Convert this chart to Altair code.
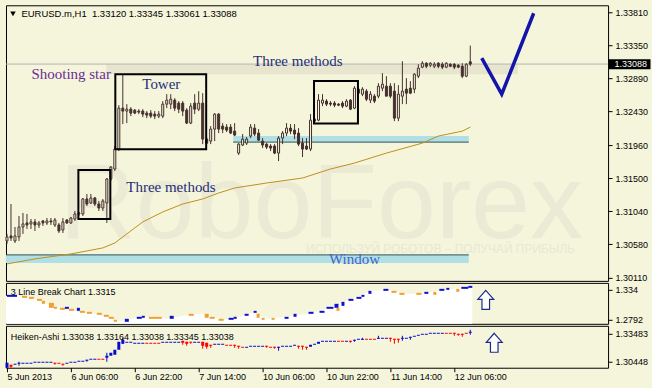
import json
import altair as alt
import pandas as pd

# ---------------- main window: EURUSD.m, H1 candles ----------------
c_open = [1.30624, 1.30694, 1.30624, 1.30680, 1.30819, 1.30875, 1.30861, 1.30889, 1.30847, 1.30903,
          1.30875, 1.30903, 1.30847, 1.30847, 1.30777, 1.30916, 1.30875, 1.30930, 1.31000, 1.31000,
          1.31209, 1.31153, 1.31223, 1.31139, 1.31083, 1.31153, 1.31487, 1.31626, 1.31904, 1.32474,
          1.32433, 1.32460, 1.32447, 1.32433, 1.32433, 1.32405, 1.32405, 1.32391, 1.32363, 1.32363,
          1.32530, 1.32530, 1.32586, 1.32544, 1.32544, 1.32447, 1.32266, 1.32544, 1.32460, 1.32544,
          1.32043, 1.32015, 1.32182, 1.32391, 1.32224, 1.32210, 1.32210, 1.32154, 1.31848, 1.31960,
          1.31987, 1.32085, 1.32196, 1.32127, 1.32015, 1.31973, 1.31946, 1.31946, 1.31848, 1.32057,
          1.32127, 1.32196, 1.32168, 1.32127, 1.31987, 1.31946, 1.31904, 1.32293, 1.32307, 1.32544,
          1.32572, 1.32544, 1.32544, 1.32530, 1.32544, 1.32502, 1.32586, 1.32474, 1.32739, 1.32669,
          1.32711, 1.32586, 1.32641, 1.32641, 1.32752, 1.32780, 1.32780, 1.32711, 1.32335, 1.32641,
          1.32739, 1.32752, 1.32739, 1.32919, 1.33045, 1.33100, 1.33072, 1.33058, 1.33100, 1.33086,
          1.33045, 1.33086, 1.33086, 1.33072, 1.33058, 1.32919, 1.33120]
c_close = [1.30680, 1.30666, 1.30694, 1.30819, 1.30861, 1.30847, 1.30889, 1.30847, 1.30875, 1.30875,
           1.30903, 1.30889, 1.30916, 1.30763, 1.30889, 1.30875, 1.30944, 1.31000, 1.31014, 1.31209,
           1.31139, 1.31223, 1.31139, 1.31083, 1.31181, 1.31487, 1.31653, 1.31904, 1.32474, 1.32433,
           1.32460, 1.32405, 1.32405, 1.32419, 1.32391, 1.32377, 1.32363, 1.32363, 1.32391, 1.32530,
           1.32586, 1.32599, 1.32474, 1.32460, 1.32433, 1.32266, 1.32502, 1.32460, 1.32544, 1.32043,
           1.31987, 1.32182, 1.32391, 1.32182, 1.32182, 1.32168, 1.32127, 1.32099, 1.31973, 1.32043,
           1.32043, 1.32210, 1.32113, 1.32029, 1.31960, 1.31932, 1.31918, 1.31848, 1.32057, 1.32127,
           1.32196, 1.32154, 1.32113, 1.31973, 1.31904, 1.31904, 1.32307, 1.32321, 1.32586, 1.32586,
           1.32530, 1.32530, 1.32516, 1.32516, 1.32502, 1.32572, 1.32460, 1.32752, 1.32683, 1.32739,
           1.32599, 1.32669, 1.32572, 1.32780, 1.32808, 1.32641, 1.32641, 1.32335, 1.32669, 1.32711,
           1.32683, 1.32683, 1.32947, 1.33031, 1.33100, 1.33058, 1.33100, 1.33086, 1.33058, 1.33045,
           1.33100, 1.33058, 1.33045, 1.33045, 1.32919, 1.33086, 1.33088]
c_high = [1.30722, 1.31139, 1.30819, 1.30972, 1.31014, 1.31000, 1.30930, 1.30930, 1.30903, 1.30916,
          1.30944, 1.30944, 1.30944, 1.30875, 1.30944, 1.30930, 1.30958, 1.31042, 1.31028, 1.31223,
          1.31278, 1.31278, 1.31237, 1.31181, 1.31209, 1.31501, 1.31667, 1.31946, 1.32516, 1.32947,
          1.32530, 1.32488, 1.32460, 1.32460, 1.32460, 1.32433, 1.32447, 1.32433, 1.32433, 1.32572,
          1.32669, 1.32669, 1.32613, 1.32572, 1.32572, 1.32474, 1.32544, 1.32669, 1.32711, 1.32683,
          1.32071, 1.32224, 1.32405, 1.32405, 1.32266, 1.32252, 1.32252, 1.32266, 1.31987, 1.32113,
          1.32071, 1.32252, 1.32252, 1.32182, 1.32057, 1.31987, 1.31973, 1.31973, 1.32085, 1.32154,
          1.32266, 1.32252, 1.32252, 1.32196, 1.32057, 1.32057, 1.32391, 1.32363, 1.32669, 1.32669,
          1.32599, 1.32572, 1.32572, 1.32544, 1.32572, 1.32599, 1.32599, 1.32780, 1.32766, 1.32766,
          1.32739, 1.32711, 1.32669, 1.32822, 1.32961, 1.32919, 1.32822, 1.32822, 1.32794, 1.33128,
          1.32892, 1.32850, 1.32961, 1.33086, 1.33128, 1.33114, 1.33114, 1.33114, 1.33114, 1.33114,
          1.33114, 1.33100, 1.33100, 1.33086, 1.33100, 1.33100, 1.33345]
c_low = [1.30582, 1.30624, 1.30596, 1.30624, 1.30722, 1.30791, 1.30791, 1.30763, 1.30805, 1.30833,
         1.30847, 1.30847, 1.30819, 1.30735, 1.30735, 1.30861, 1.30861, 1.30903, 1.30972, 1.30972,
         1.31111, 1.31139, 1.31111, 1.31042, 1.31042, 1.30875, 1.31459, 1.31598, 1.31876, 1.32252,
         1.32266, 1.32363, 1.32391, 1.32391, 1.32349, 1.32335, 1.32335, 1.32321, 1.32335, 1.32335,
         1.32474, 1.32460, 1.32433, 1.32405, 1.32363, 1.32252, 1.32252, 1.32391, 1.32433, 1.31973,
         1.31973, 1.31973, 1.32015, 1.32127, 1.32127, 1.32141, 1.32113, 1.32085, 1.31821, 1.31946,
         1.31960, 1.32057, 1.32085, 1.32015, 1.31918, 1.31904, 1.31876, 1.31834, 1.31737, 1.31973,
         1.32085, 1.32113, 1.32043, 1.31946, 1.31793, 1.31890, 1.31876, 1.32266, 1.32293, 1.32502,
         1.32502, 1.32502, 1.32488, 1.32502, 1.32474, 1.32488, 1.32447, 1.32460, 1.32655, 1.32641,
         1.32572, 1.32544, 1.32544, 1.32613, 1.32711, 1.32641, 1.32613, 1.32293, 1.32293, 1.32530,
         1.32530, 1.32669, 1.32683, 1.32892, 1.33031, 1.33031, 1.33045, 1.33031, 1.33031, 1.33017,
         1.33031, 1.33045, 1.33017, 1.33031, 1.32892, 1.32905, 1.33061]

ma_bar = [0, 7, 16, 24, 27, 30, 34, 39, 44, 49, 53, 57, 65, 74, 81, 87, 95, 104, 108, 114, 116]
ma_val = [1.30304, 1.30374, 1.30443, 1.30527, 1.30596, 1.30722, 1.30889, 1.31028, 1.31139, 1.31209,
          1.31292, 1.31362, 1.31431, 1.31501, 1.31626, 1.31709, 1.31848, 1.31987, 1.32085, 1.32154, 1.32210]

price_ticks = [1.30110, 1.30580, 1.31040, 1.31500, 1.31960, 1.32430, 1.32890, 1.33350, 1.33810]
time_ticks = [0, 16, 32, 48, 64, 80, 96, 112]
time_labels = ["5 Jun 2013", "6 Jun 06:00", "6 Jun 22:00", "7 Jun 14:00",
               "10 Jun 06:00", "10 Jun 22:00", "11 Jun 14:00", "12 Jun 06:00"]
last_price = 1.33088

# drawn objects
band_x1 = [56.625, -0.25]
band_x2 = [115.625, 115.625]
band_top = [1.32085, 1.30430]
band_bot = [1.32001, 1.30318]
band_edge = [1.32001, 1.30430]

box_x1 = [17.875, 27.125, 76.875]
box_x2 = [25.875, 49.875, 87.875]
box_top = [1.31612, 1.32947, 1.32854]
box_bot = [1.30930, 1.31900, 1.32261]

shade_x = [24.875, 127.875]
shade_y = [1.33086, 1.32947]

tick_bar = [118.875, 123.875, 131.875]
tick_val = [1.33170, 1.32669, 1.33796]

note_text = ["Shooting star", "Tower", "Three methods", "Three methods", "Window"]
note_bar = [6.125, 33.875, 61.625, 29.875, 80.625]
note_val = [1.32878, 1.32739, 1.33058, 1.31306, 1.30304]
note_col = ["#6A2C96", "#232E78", "#232E78", "#232E78", "#4163C8"]

# ---------------- 3 Line Break window ----------------
lb_x1 = [0, 3.75, 5.5, 7.5, 8.75, 10.5, 11.75, 13.25, 14.5, 15.5, 17.5, 18.25, 20, 22.5, 24.25, 25.5,
         26.75, 29.5, 32.5, 33.75, 35.5, 40.75, 45.5, 49.5, 50.75, 53, 55.5, 56.75, 59.5, 61.75, 62.5,
         63.75, 66.25, 69.5, 71.75, 75.5, 78.25, 80, 82, 82.5, 83.75, 85.5, 87.5, 88.75, 90.5, 94.25,
         96.25, 98.25, 102.5, 104.5, 106.75, 108.25, 110, 112.5, 113.75, 115.5]
lb_x2 = [2.5, 5, 6.75, 8.75, 9.5, 11.75, 12.5, 14.5, 15.5, 16.75, 18.25, 19.5, 21.25, 23.75, 25.5, 26.75,
         27.5, 30.5, 33.75, 34.5, 38.75, 41.75, 46.75, 50.5, 52, 54.25, 56.75, 57.5, 60.5, 62.5, 63.25,
         64.5, 67, 70.5, 72.5, 76.75, 79.5, 81.75, 83, 83.25, 84.5, 86.75, 88.75, 89.5, 91.25, 95.5,
         97.5, 99.5, 103.75, 105.5, 107.5, 109.5, 110.75, 113.25, 115.5, 116.5]
lb_top = [1.32487, 1.32304, 1.32121, 1.31756, 1.31390, 1.31025, 1.30294, 1.30111, 1.30294, 1.29929,
          1.30111, 1.29563, 1.29380, 1.29198, 1.28832, 1.28467, 1.27919, 1.28101, 1.28467, 1.28650,
          1.28467, 1.28650, 1.29015, 1.29015, 1.28467, 1.28101, 1.28284, 1.28467, 1.29015, 1.29563,
          1.29015, 1.28284, 1.28284, 1.28467, 1.29015, 1.29380, 1.29563, 1.30294, 1.30842, 1.30111,
          1.31208, 1.31756, 1.32121, 1.32487, 1.33217, 1.33583, 1.33217, 1.32852, 1.32852, 1.33035,
          1.33035, 1.33583, 1.33765, 1.33583, 1.33948, 1.34131]
lb_bot = [1.32121, 1.31938, 1.31756, 1.31390, 1.30842, 1.30111, 1.29929, 1.29746, 1.29929, 1.29563,
          1.29563, 1.29198, 1.29015, 1.28832, 1.28467, 1.28101, 1.27553, 1.27553, 1.28101, 1.28284,
          1.28101, 1.28101, 1.28650, 1.28284, 1.28101, 1.27736, 1.27919, 1.28101, 1.28650, 1.29198,
          1.28284, 1.27919, 1.27919, 1.28101, 1.28467, 1.29015, 1.29198, 1.29929, 1.30111, 1.29563,
          1.30477, 1.31390, 1.31756, 1.32121, 1.32669, 1.33217, 1.32852, 1.32487, 1.32487, 1.32669,
          1.32487, 1.33217, 1.33400, 1.33035, 1.33583, 1.33765]
lb_dir = ["up", "dn", "dn", "dn", "dn", "dn", "dn", "dn", "up", "dn",
          "up", "dn", "dn", "dn", "dn", "dn", "dn", "up", "up", "up",
          "dn", "up", "dn", "dn", "dn", "dn", "up", "up", "up", "up",
          "dn", "dn", "dn", "up", "up", "up", "up", "up", "up", "dn",
          "up", "up", "up", "up", "up", "up", "dn", "dn", "dn", "up",
          "dn", "up", "up", "dn", "up", "up"]
lb_area_bar = [-0.25, 3.75, 7, 9.5, 12, 15.5, 18.75, 22, 25.5, 27.5, 29.5, 33, 36.25, 40.5, 45.5,
               48.75, 53.75, 57, 61.25, 65.5, 73.75, 78.75, 83.75, 91.25, 95.5, 99.5, 103.75, 108,
               113.75, 116.5]
lb_area_val = [1.32304, 1.32121, 1.31756, 1.31025, 1.30111, 1.29746, 1.29198, 1.29015, 1.28284,
               1.27553, 1.27919, 1.28284, 1.28467, 1.28101, 1.28832, 1.29015, 1.27919, 1.28101,
               1.29198, 1.28101, 1.28832, 1.29563, 1.31025, 1.33217, 1.33400, 1.32669, 1.32669,
               1.33217, 1.33765, 1.33948]
lb_ticks = [1.2792, 1.334]

# ---------------- Heiken-Ashi window ----------------
ha_open = [1.29798, 1.30123, 1.30123, 1.30231, 1.30231, 1.30231, 1.30231, 1.30340, 1.30340, 1.30340,
           1.30340, 1.30340, 1.30340, 1.30340, 1.30231, 1.30231, 1.30340, 1.30340, 1.30448, 1.30448,
           1.30556, 1.30665, 1.30665, 1.30773, 1.30773, 1.30882, 1.31098, 1.31207, 1.31749, 1.32399,
           1.32508, 1.32508, 1.32399, 1.32399, 1.32399, 1.32508, 1.32508, 1.32508, 1.32508, 1.32508,
           1.32508, 1.32508, 1.32508, 1.32508, 1.32724, 1.32616, 1.32616, 1.32508, 1.32508, 1.32616,
           1.32508, 1.32291, 1.32291, 1.32291, 1.32291, 1.32291, 1.32291, 1.32291, 1.32182, 1.32074,
           1.31966, 1.32074, 1.32074, 1.32074, 1.32074, 1.32182, 1.32074, 1.32074, 1.31966, 1.32074,
           1.32074, 1.32074, 1.32182, 1.32182, 1.32182, 1.32074, 1.32074, 1.32291, 1.32399, 1.32616,
           1.32616, 1.32616, 1.32616, 1.32724, 1.32724, 1.32616, 1.32724, 1.32724, 1.32833, 1.32833,
           1.32941, 1.32941, 1.32941, 1.32941, 1.32941, 1.32941, 1.33050, 1.32941, 1.32941, 1.32941,
           1.32941, 1.33050, 1.33158, 1.33266, 1.33375, 1.33375, 1.33483, 1.33483, 1.33483, 1.33483,
           1.33591, 1.33591, 1.33591, 1.33483, 1.33483, 1.33591, 1.33591]
ha_close = [1.30340, 1.29906, 1.30231, 1.30340, 1.30340, 1.30340, 1.30340, 1.30448, 1.30448, 1.30448,
            1.30448, 1.30448, 1.30231, 1.30231, 1.30123, 1.30340, 1.30448, 1.30448, 1.30556, 1.30556,
            1.30665, 1.30773, 1.30773, 1.30665, 1.30665, 1.31098, 1.31424, 1.31749, 1.32616, 1.32833,
            1.32616, 1.32616, 1.32508, 1.32508, 1.32508, 1.32399, 1.32399, 1.32399, 1.32399, 1.32616,
            1.32616, 1.32616, 1.32616, 1.32616, 1.32508, 1.32399, 1.32508, 1.32616, 1.32616, 1.32182,
            1.32074, 1.32182, 1.32399, 1.32399, 1.32399, 1.32182, 1.32182, 1.32182, 1.32074, 1.31966,
            1.32074, 1.32182, 1.32182, 1.32182, 1.32182, 1.32074, 1.31966, 1.31966, 1.32074, 1.32182,
            1.32182, 1.32182, 1.32291, 1.32074, 1.32074, 1.31966, 1.32291, 1.32399, 1.32616, 1.32724,
            1.32724, 1.32724, 1.32724, 1.32616, 1.32616, 1.32724, 1.32616, 1.32833, 1.32941, 1.32941,
            1.32833, 1.32833, 1.32833, 1.33050, 1.33050, 1.33050, 1.32941, 1.32833, 1.32833, 1.33050,
            1.33050, 1.33158, 1.33266, 1.33375, 1.33483, 1.33483, 1.33591, 1.33591, 1.33591, 1.33591,
            1.33483, 1.33483, 1.33483, 1.33375, 1.33375, 1.33483, 1.33700]
haw_bar = [1, 3, 12, 14, 20, 25, 29, 44, 45, 46, 49, 50, 51, 57, 58, 65, 67, 68, 73, 74, 75, 86, 87,
           89, 93, 96, 97, 98, 99, 101, 112, 113, 114, 116]
haw_hi = [1.30123, 1.30448, 1.30340, 1.30231, 1.30665, 1.31424, 1.33050, 1.32724, 1.32616, 1.32616,
          1.32616, 1.32508, 1.32291, 1.32291, 1.32182, 1.32182, 1.32074, 1.32074, 1.32182, 1.32182,
          1.32074, 1.32724, 1.32833, 1.33050, 1.33266, 1.33050, 1.32941, 1.32941, 1.33266, 1.33158,
          1.33591, 1.33483, 1.33483, 1.33917]
haw_lo = [1.29798, 1.30014, 1.30123, 1.30014, 1.30448, 1.30448, 1.32399, 1.32291, 1.32182, 1.32399,
          1.31857, 1.31857, 1.31966, 1.31966, 1.31857, 1.31966, 1.31857, 1.31640, 1.31857, 1.31749,
          1.31749, 1.32508, 1.32616, 1.32833, 1.32941, 1.32616, 1.32399, 1.32508, 1.32724, 1.32833,
          1.33266, 1.33266, 1.33158, 1.33375]
ha_ticks = [1.30448, 1.33483]

# ---------------- styling ----------------
BG = "#F5F5DC"
DARK = "#45302E"
FONT = "Liberation Sans"
SERIF = "Liberation Serif"
BLUE = "#0A0ACD"
W = 603
X_DOM = [-0.25, 150.5]
xsc = alt.Scale(domain=X_DOM, nice=False, zero=False, padding=0)
ysc_main = alt.Scale(domain=[1.30068, 1.33907], nice=False, zero=False, padding=0)
ysc_lb = alt.Scale(domain=[1.27188, 1.34679], nice=False, zero=False, padding=0)
ysc_ha = alt.Scale(domain=[1.29797, 1.34350], nice=False, zero=False, padding=0)

axis_common = dict(orient="right", tickSize=4, tickColor="black", domain=False, grid=False,
                   labelFont=FONT, labelFontSize=9, labelColor="black", labelPadding=3,
                   labelFlush=False, labelOverlap=False, labelBaseline="middle")
ax_main = alt.Axis(values=price_ticks, format=".5f", **axis_common)
ax_lb = alt.Axis(values=lb_ticks, labelExpr="datum.value > 1.3 ? '1.334' : '1.2792'", **axis_common)
ax_ha = alt.Axis(values=ha_ticks, format=".5f", **axis_common)
ax_time = alt.Axis(values=time_ticks, labelExpr=json.dumps(time_labels) + "[round(datum.value/16)]",
                   labelAlign="left", tickSize=4, tickColor="black", domain=False, grid=False,
                   labelFont=FONT, labelFontSize=9, labelColor="black", labelPadding=1,
                   labelFlush=False, labelOverlap=False)


def X(f, axis=None):
    return alt.X(f, type="quantitative", scale=xsc, axis=axis, title=None)


def YM(f):
    return alt.Y(f, type="quantitative", scale=ysc_main, axis=ax_main, title=None)


def YL(f):
    return alt.Y(f, type="quantitative", scale=ysc_lb, axis=ax_lb, title=None)


def YH(f):
    return alt.Y(f, type="quantitative", scale=ysc_ha, axis=ax_ha, title=None)


# ---------------- main panel ----------------
n = len(c_open)
df_c = pd.DataFrame({"i": list(range(n)), "o": c_open, "h": c_high, "l": c_low, "c": c_close})
df_c["fillc"] = [BG if c >= o else DARK for o, c in zip(c_open, c_close)]

wm = alt.Chart(pd.DataFrame({"i": [13.125], "p": [1.30666], "t": ["RoboForex"]})).mark_text(
    font=FONT, fontSize=106, color="#EAEAD5", align="left", baseline="alphabetic"
).encode(x=X("i"), y=YM("p"), text="t")
wm2 = alt.Chart(pd.DataFrame({"i": [74.875], "p": [1.30457],
                              "t": ["ИСПОЛЬЗУЙ РОБОТОВ – ПОЛУЧАЙ ПРИБЫЛЬ"]})).mark_text(
    font=FONT, fontSize=12, color="#E8E8D3", align="left", baseline="alphabetic"
).encode(x=X("i"), y=YM("p"), text="t")

shade = alt.Chart(pd.DataFrame({"x1": [shade_x[0]], "x2": [shade_x[1]], "t": [shade_y[0]], "b": [shade_y[1]]})
                  ).mark_rect(color="#E7E5CD").encode(x=X("x1"), x2="x2", y=YM("t"), y2="b")

df_band = pd.DataFrame({"x1": band_x1, "x2": band_x2, "t": band_top, "b": band_bot, "e": band_edge})
bands = alt.Chart(df_band).mark_rect(color="#B0E0E6").encode(x=X("x1"), x2="x2", y=YM("t"), y2="b")
band_lines = alt.Chart(df_band).mark_rule(color="#2F5050", strokeWidth=1).encode(x=X("x1"), x2="x2", y=YM("e"))

price_line = alt.Chart(pd.DataFrame({"x1": [X_DOM[0]], "x2": [X_DOM[1]], "p": [last_price]})).mark_rule(
    color="#B4B4B4", strokeWidth=1).encode(x=X("x1"), x2="x2", y=YM("p"))

ma = alt.Chart(pd.DataFrame({"i": ma_bar, "p": ma_val})).mark_line(
    color="#C0901C", strokeWidth=1).encode(x=X("i"), y=YM("p"))

wick = alt.Chart(df_c).mark_rule(color=DARK, strokeWidth=1).encode(x=X("i"), y=YM("l"), y2="h")
body = alt.Chart(df_c).mark_bar(size=2, stroke=DARK, strokeWidth=1).encode(
    x=X("i"), y=YM("o"), y2="c", fill=alt.Fill("fillc:N", scale=None))

boxes = alt.Chart(pd.DataFrame({"x1": box_x1, "x2": box_x2, "t": box_top, "b": box_bot})).mark_rect(
    fillOpacity=0, stroke="black", strokeWidth=2).encode(x=X("x1"), x2="x2", y=YM("t"), y2="b")

notes = alt.Chart(pd.DataFrame({"i": note_bar, "p": note_val, "t": note_text, "c": note_col})).mark_text(
    font=SERIF, fontSize=15, align="left", baseline="alphabetic").encode(
    x=X("i"), y=YM("p"), text="t", color=alt.Color("c:N", scale=None))

check = alt.Chart(pd.DataFrame({"i": tick_bar, "p": tick_val})).mark_line(
    color="#1414AA", strokeWidth=3.5, strokeJoin="miter").encode(x=X("i"), y=YM("p"))

header = alt.Chart(pd.DataFrame({"i": [3.625], "p": [1.33740],
                                 "t": ["EURUSD.m,H1\u00a0\u00a01.33120 1.33345 1.33061 1.33088"]})).mark_text(
    font=FONT, fontSize=9.5, color="black", align="left", baseline="alphabetic").encode(
    x=X("i"), y=YM("p"), text="t")
tri = alt.Chart(pd.DataFrame({"i": [1.5], "p": [1.33789]})).mark_point(
    shape="triangle-down", filled=True, color="black", size=30, opacity=1).encode(x=X("i"), y=YM("p"))

plabel_box = alt.Chart(pd.DataFrame({"x1": [150.625], "x2": [161.125], "t": [1.33156], "b": [1.33017]})).mark_rect(
    color="black").encode(x=X("x1"), x2="x2", y=YM("t"), y2="b")
plabel_txt = alt.Chart(pd.DataFrame({"i": [152.125], "p": [1.33045], "t": ["1.33088"]})).mark_text(
    font=FONT, fontSize=9, color="white", align="left", baseline="alphabetic").encode(
    x=X("i"), y=YM("p"), text="t")

main = alt.layer(wm, wm2, shade, bands, band_lines, price_line, ma, wick, body, boxes, notes,
                 check, header, tri, plabel_box, plabel_txt).properties(width=W, height=276)

# ---------------- 3 Line Break panel ----------------
ARROW = "M0,-1L0.84,-0.05L0.4,-0.05L0.4,1L-0.4,1L-0.4,-0.05L-0.84,-0.05Z"
lb_area = alt.Chart(pd.DataFrame({"i": lb_area_bar, "v": lb_area_val})).mark_area(
    color="white", opacity=1).encode(x=X("i"), y=YL("v"), y2=alt.Y2(datum=1.27188))
df_lb = pd.DataFrame({"x1": lb_x1, "x2": lb_x2, "t": lb_top, "b": lb_bot,
                      "c": ["#1010D0" if d == "up" else "#F0A030" for d in lb_dir]})
lb_bricks = alt.Chart(df_lb).mark_rect().encode(
    x=X("x1"), x2="x2", y=YL("t"), y2="b", color=alt.Color("c:N", scale=None))
lb_title = alt.Chart(pd.DataFrame({"i": [0.95], "v": [1.32487], "t": ["3 Line Break Chart 1.3315"]})).mark_text(
    font=FONT, fontSize=9, color="black", align="left", baseline="alphabetic").encode(
    x=X("i"), y=YL("v"), text="t")
lb_arrow = alt.Chart(pd.DataFrame({"i": [119.875], "v": [1.31573]})).mark_point(
    shape=ARROW, size=361, filled=True, fill="white", stroke="#1E2A8C", strokeWidth=1.2, opacity=1
).encode(x=X("i"), y=YL("v"))
sub1 = alt.layer(lb_area, lb_bricks, lb_title, lb_arrow).properties(width=W, height=41)

# ---------------- Heiken-Ashi panel ----------------
ha_col = [BLUE if c >= o else "#FF0000" for o, c in zip(ha_open, ha_close)]
df_ha = pd.DataFrame({"i": list(range(len(ha_open))), "o": ha_open, "c": ha_close, "col": ha_col})
df_haw = pd.DataFrame({"i": haw_bar, "hi": haw_hi, "lo": haw_lo, "col": [ha_col[k] for k in haw_bar]})
ha_w = alt.Chart(df_haw).mark_rule(strokeWidth=1).encode(
    x=X("i", ax_time), y=YH("lo"), y2="hi", color=alt.Color("col:N", scale=None))
ha_b = alt.Chart(df_ha).mark_bar(size=3).encode(
    x=X("i", ax_time), y=YH("o"), y2="c", color=alt.Color("col:N", scale=None))
ha_title = alt.Chart(pd.DataFrame({"i": [0.95], "v": [1.32833],
                                   "t": ["Heiken-Ashi 1.33038 1.33164 1.33038 1.33345 1.33038"]})).mark_text(
    font=FONT, fontSize=9, color="black", align="left", baseline="alphabetic").encode(
    x=X("i", ax_time), y=YH("v"), text="t")
ha_arrow = alt.Chart(pd.DataFrame({"i": [122.0], "v": [1.32508]})).mark_point(
    shape=ARROW, size=361, filled=True, fill="white", stroke="#1E2A8C", strokeWidth=1.2, opacity=1
).encode(x=X("i", ax_time), y=YH("v"))
sub2 = alt.layer(ha_w, ha_b, ha_title, ha_arrow).properties(width=W, height=42)

chart = alt.vconcat(main, sub1, sub2, spacing=2, bounds="flush").properties(
    padding={"left": 4, "top": 4, "right": 1, "bottom": 6},
    background=BG,
).configure_view(stroke="black", strokeWidth=1)

chart.save("out.html", embed_options={"renderer": "svg", "actions": False})
